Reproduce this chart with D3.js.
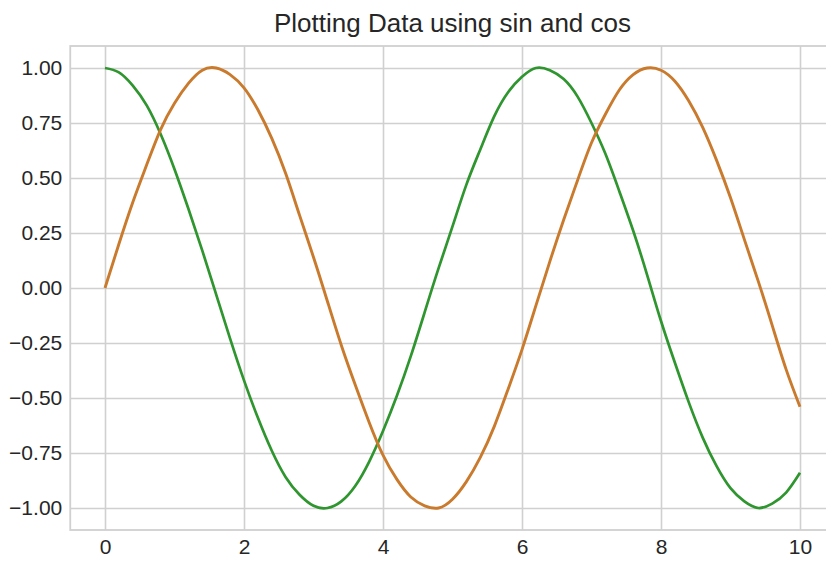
<!DOCTYPE html>
<html>
<head>
<meta charset="utf-8">
<script src="https://cdn.jsdelivr.net/npm/d3@7"></script>
<style>
  html, body { margin: 0; padding: 0; background: #fff; }
  svg { display: block; }
</style>
</head>
<body>
<svg id="chart" width="826" height="561"></svg>
<script>
const title = "Plotting Data using sin and cos";
const xValues = [0,0.2,0.4,0.6,0.8,1.0,1.2,1.4,1.6,1.8,2.0,2.2,2.4,2.6,2.8,3.0,3.2,3.4,3.6,3.8,4.0,4.2,4.4,4.6,4.8,5.0,5.2,5.4,5.6,5.8,6.0,6.2,6.4,6.6,6.8,7.0,7.2,7.4,7.6,7.8,8.0,8.2,8.4,8.6,8.8,9.0,9.2,9.4,9.6,9.8,10.0];
const sinValues = [0.00,0.20,0.39,0.56,0.72,0.84,0.93,0.99,1.00,0.97,0.91,0.81,0.68,0.52,0.33,0.14,-0.06,-0.26,-0.44,-0.61,-0.76,-0.87,-0.95,-0.99,-1.00,-0.96,-0.88,-0.77,-0.63,-0.46,-0.28,-0.08,0.12,0.31,0.49,0.66,0.79,0.90,0.97,1.00,0.99,0.94,0.85,0.73,0.58,0.41,0.22,0.03,-0.17,-0.37,-0.54];
const cosValues = [1.00,0.98,0.92,0.83,0.70,0.54,0.36,0.17,-0.03,-0.23,-0.42,-0.59,-0.74,-0.86,-0.94,-0.99,-1.00,-0.97,-0.90,-0.79,-0.65,-0.49,-0.31,-0.11,0.09,0.28,0.47,0.63,0.78,0.89,0.96,1.00,0.99,0.95,0.87,0.75,0.61,0.44,0.26,0.06,-0.15,-0.34,-0.52,-0.68,-0.81,-0.91,-0.97,-1.00,-0.98,-0.93,-0.84];
const xTicks = [0,2,4,6,8,10];
const yTicks = [-1.00,-0.75,-0.50,-0.25,0.00,0.25,0.50,0.75,1.00];

const svg = d3.select("#chart");
const plot = {left: 70.25, right: 834.75, top: 46, bottom: 530};
const x = d3.scaleLinear().domain([-0.5, 10.5]).range([plot.left, plot.right]);
const y = d3.scaleLinear().domain([-1.1, 1.1]).range([plot.bottom, plot.top]);

const gridColor = "#d0d0d0";
const font = "'Liberation Sans', Arial, sans-serif";
const fmtY = v => d3.format(".2f")(v).replace("-", "\u2212");

// grid
const gx = svg.append("g")
  .attr("transform", `translate(0,${plot.bottom})`)
  .call(d3.axisBottom(x).tickValues(xTicks).tickSize(-(plot.bottom - plot.top)).tickPadding(9).tickFormat(d3.format("d")));
const gy = svg.append("g")
  .attr("transform", `translate(${plot.left},0)`)
  .call(d3.axisLeft(y).tickValues(yTicks).tickSize(-(plot.right - plot.left)).tickPadding(8).tickFormat(fmtY));
[gx, gy].forEach(g => {
  g.select(".domain").remove();
  g.selectAll(".tick line").attr("stroke", gridColor).attr("stroke-width", 1.6);
  g.selectAll(".tick text").attr("fill", "#262626").style("font-family", font).style("font-size", "21px");
});
gx.selectAll(".tick text").attr("dy", "0.71em");

// frame
svg.append("rect")
  .attr("x", plot.left).attr("y", plot.top)
  .attr("width", plot.right - plot.left).attr("height", plot.bottom - plot.top)
  .attr("fill", "none").attr("stroke", gridColor).attr("stroke-width", 1.8);

const line = vals => d3.line()
  .x((d, i) => x(xValues[i]))
  .y(d => y(d))
  .curve(d3.curveNatural)(vals);

svg.append("path").attr("d", line(cosValues))
  .attr("fill", "none").attr("stroke", "#2f952f").attr("stroke-width", 2.7);
svg.append("path").attr("d", line(sinValues))
  .attr("fill", "none").attr("stroke", "#c97a2c").attr("stroke-width", 2.9);

svg.append("text")
  .attr("x", (plot.left + plot.right) / 2).attr("y", 32)
  .attr("text-anchor", "middle")
  .attr("fill", "#262626")
  .style("font-family", font).style("font-size", "26px")
  .text(title);
</script>
</body>
</html>
